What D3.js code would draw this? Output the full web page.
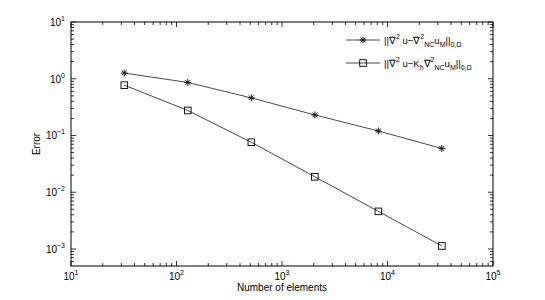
<!DOCTYPE html>
<html>
<head>
<meta charset="utf-8">
<script src="https://cdn.jsdelivr.net/npm/d3@7"></script>
<style>
  body { margin: 0; background: #fff; }
  text { font-family: "Liberation Sans", Arial, Helvetica, sans-serif; fill: #000; }
</style>
</head>
<body>
<div id="chart"></div>
<script>
"use strict";

// data
const elements = [32, 128, 512, 2048, 8192, 32768];
const errNC = [1.26, 0.86, 0.46, 0.23, 0.12, 0.059];
const errKh = [0.77, 0.276, 0.076, 0.0187, 0.0046, 0.00113];
const xDecades = [1, 2, 3, 4, 5];
const yDecades = [-3, -2, -1, 0, 1];

const msm = { width: 545, height: 300, left: 71, right: 493, top: 22, bottom: 266 };

const svg = d3.select("#chart").append("svg")
    .attr("width", msm.width)
    .attr("height", msm.height);

const xScale = d3.scaleLog().domain([10, 1e5]).range([msm.left, msm.right]);
const yScale = d3.scaleLog().domain([Math.pow(10, -3.3), 10]).range([msm.bottom, msm.top]);

// all ticks (major + minor) inside the domain
function logTicks(scale) {
    const [a, b] = scale.domain();
    let out = [];
    for (let e = Math.floor(Math.log10(a)); e <= Math.ceil(Math.log10(b)); e++) {
        for (let m = 1; m < 10; m++) {
            const v = m * Math.pow(10, e);
            if (v >= a * 0.999 && v <= b * 1.001) out.push(v);
        }
    }
    return out;
}
const isMajor = (v) => Math.abs(Math.log10(v) - Math.round(Math.log10(v))) < 1e-6;

// draw tick marks on all four sides
function drawTicks(scale, orient) {
    const ticks = logTicks(scale);
    const g = svg.append("g");
    ticks.forEach((v) => {
        const len = isMajor(v) ? 5 : 3;
        const p = scale(v);
        let x1, y1, x2, y2;
        if (orient === "bottom") { x1 = x2 = p; y1 = msm.bottom; y2 = msm.bottom - len; }
        if (orient === "top") { x1 = x2 = p; y1 = msm.top; y2 = msm.top + len; }
        if (orient === "left") { y1 = y2 = p; x1 = msm.left; x2 = msm.left + len; }
        if (orient === "right") { y1 = y2 = p; x1 = msm.right; x2 = msm.right - len; }
        g.append("line")
            .attr("x1", x1).attr("y1", y1).attr("x2", x2).attr("y2", y2)
            .attr("stroke", "#000").attr("stroke-width", 0.8);
    });
}
drawTicks(xScale, "bottom");
drawTicks(xScale, "top");
drawTicks(yScale, "left");
drawTicks(yScale, "right");

// axes box
svg.append("rect")
    .attr("x", msm.left).attr("y", msm.top)
    .attr("width", msm.right - msm.left).attr("height", msm.bottom - msm.top)
    .attr("fill", "none").attr("stroke", "#000").attr("stroke-width", 1);

// tick labels 10^n
xDecades.forEach((e) => {
    const t = svg.append("text")
        .attr("x", xScale(Math.pow(10, e)))
        .attr("y", msm.bottom + 14)
        .attr("text-anchor", "middle")
        .style("font-size", "10px");
    t.append("tspan").text("10");
    t.append("tspan").attr("dy", -5).style("font-size", "7px").text(e);
});
yDecades.forEach((e) => {
    const t = svg.append("text")
        .attr("x", msm.left - 6)
        .attr("y", yScale(Math.pow(10, e)) + 4)
        .attr("text-anchor", "end")
        .style("font-size", "10px");
    t.append("tspan").text("10");
    t.append("tspan").attr("dy", -5).style("font-size", "7px").text(e < 0 ? "\u2212" + (-e) : e);
});

// axis titles
svg.append("text")
    .attr("x", (msm.left + msm.right) / 2)
    .attr("y", msm.bottom + 25)
    .attr("text-anchor", "middle")
    .style("font-size", "10px")
    .text("Number of elements");
svg.append("text")
    .attr("transform", "translate(40," + ((msm.top + msm.bottom) / 2) + ") rotate(-90)")
    .attr("text-anchor", "middle")
    .style("font-size", "10px")
    .text("Error");

// lines
const line = d3.line()
    .x((d) => xScale(d[0]))
    .y((d) => yScale(d[1]));

function starPath(s) {
    const d = s * 0.7;
    return "M" + (-s) + ",0L" + s + ",0M0," + (-s) + "L0," + s +
        "M" + (-d) + "," + (-d) + "L" + d + "," + d + "M" + (-d) + "," + d + "L" + d + "," + (-d);
}

function drawSeries(values, marker) {
    const pts = elements.map((x, i) => [x, values[i]]);
    svg.append("path")
        .attr("d", line(pts))
        .attr("fill", "none")
        .attr("stroke", "#333")
        .attr("stroke-width", 0.9);
    pts.forEach((p) => drawMarker(xScale(p[0]), yScale(p[1]), marker));
}

function drawMarker(cx, cy, marker) {
    if (marker === "star") {
        svg.append("path")
            .attr("d", starPath(3.5))
            .attr("transform", "translate(" + cx + "," + cy + ")")
            .attr("stroke", "#000").attr("stroke-width", 0.9).attr("fill", "none");
    } else {
        svg.append("rect")
            .attr("x", cx - 3.3).attr("y", cy - 3.3)
            .attr("width", 6.6).attr("height", 6.6)
            .attr("fill", "none").attr("stroke", "#000").attr("stroke-width", 0.9);
    }
}

drawSeries(errNC, "star");
drawSeries(errKh, "square");

// legend
const legendRows = [
    { y: 40, marker: "star", parts: [["||\u2207", 0], ["2", 1], [" u\u2212\u2207", 0], ["2", 1], ["NC", -1], ["u", 0], ["M", -1], ["||", 0], ["0,\u03A9", -1]] },
    { y: 63, marker: "square", parts: [["||\u2207", 0], ["2", 1], [" u\u2212K", 0], ["h", -1], ["\u2207", 0], ["2", 1], ["NC", -1], ["u", 0], ["M", -1], ["||", 0], ["0,\u03A9", -1]] }
];

legendRows.forEach((row) => {
    svg.append("line")
        .attr("x1", 346).attr("x2", 380)
        .attr("y1", row.y).attr("y2", row.y)
        .attr("stroke", "#333").attr("stroke-width", 0.9);
    drawMarker(363, row.y, row.marker);
    const t = svg.append("text")
        .attr("x", 384).attr("y", row.y + 3.5)
        .style("font-size", "9.5px");
    let level = 0;
    row.parts.forEach((p) => {
        const shift = p[1] === 1 ? -5 : (p[1] === -1 ? 3 : 0);
        t.append("tspan")
            .attr("dy", shift - level)
            .style("font-size", p[1] === 0 ? "9.5px" : "7px")
            .text(p[0]);
        level = shift;
    });
});
</script>
</body>
</html>
